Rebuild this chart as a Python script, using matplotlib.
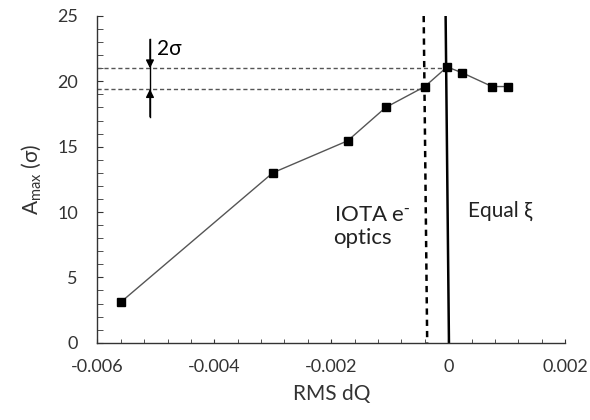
import matplotlib
matplotlib.use("Agg")
import matplotlib.pyplot as plt
from matplotlib.ticker import MultipleLocator

plt.rcParams['font.family'] = ['Lato', 'DejaVu Sans']
plt.rcParams['mathtext.default'] = 'regular'

# data
rms_dq = [-0.0056, -0.0030, -0.00172, -0.00107, -0.00040, -0.00002, 0.00024, 0.00075, 0.00103]
a_max = [3.1, 13.0, 15.45, 18.0, 19.6, 21.1, 20.65, 19.6, 19.6]

level_hi = 21.0
level_lo = 19.4
iota_x = [-0.00042, -0.00036]   # dashed line (top, bottom)
equal_x = [-0.000045, 0.000012]  # solid line (top, bottom)
arrow_x = -0.0051
arrow_ends = [23.2, 17.3]

fig = plt.figure(figsize=(5.9, 4.2), dpi=100)
ax = fig.add_axes([0.165, 0.184, 0.793, 0.778])

ax.plot(rms_dq, a_max, color='#555555', lw=1.0, marker='s', ms=6,
        mfc='black', mec='black', zorder=3)

# reference levels
ax.plot([-0.006, rms_dq[5]], [level_hi, level_hi], color='#555555', lw=1.0,
        ls=(0, (3, 2)), zorder=2)
ax.plot([-0.006, rms_dq[4]], [level_lo, level_lo], color='#555555', lw=1.0,
        ls=(0, (3, 2)), zorder=2)

# vertical separators
ax.plot(iota_x, [25, 0], color='black', lw=1.8, ls=(0, (2.5, 2)), zorder=2)
ax.plot(equal_x, [25, 0], color='black', lw=1.8, zorder=2)

# 2 sigma marker
ax.plot([arrow_x, arrow_x], arrow_ends, color='black', lw=1.0)
ax.annotate('', xy=(arrow_x, level_hi), xytext=(arrow_x, arrow_ends[0]),
            arrowprops=dict(arrowstyle='-|>', color='black', lw=1.0,
                            mutation_scale=12, shrinkA=0, shrinkB=0))
ax.annotate('', xy=(arrow_x, level_lo), xytext=(arrow_x, arrow_ends[1]),
            arrowprops=dict(arrowstyle='-|>', color='black', lw=1.0,
                            mutation_scale=12, shrinkA=0, shrinkB=0))
ax.text(-0.00498, 22.5, '2σ', fontsize=15, va='center', ha='left')

ax.text(-0.00196, 8.9, 'IOTA e$^{\\text{-}}$\noptics', fontsize=16, va='center',
        ha='left', linespacing=1.15, color='#222222')
ax.text(0.00033, 10.1, 'Equal ξ', fontsize=15, va='center', ha='left',
        color='#222222')

ax.set_xlim(-0.006, 0.002)
ax.set_ylim(0, 25)
ax.xaxis.set_minor_locator(MultipleLocator(0.0004))
ax.yaxis.set_major_locator(MultipleLocator(5))
ax.yaxis.set_minor_locator(MultipleLocator(1))
ax.set_xticks([-0.006, -0.004, -0.002, 0, 0.002])
ax.set_xticklabels(['-0.006', '-0.004', '-0.002', '0', '0.002'])

ax.spines['top'].set_visible(False)
ax.spines['right'].set_visible(False)
for s in ['left', 'bottom']:
    ax.spines[s].set_color('#333333')
    ax.spines[s].set_linewidth(1.0)

ax.tick_params(axis='both', which='both', direction='in', color='#333333',
               labelsize=13, labelcolor='#333333')
ax.tick_params(axis='y', which='both', length=4, pad=14)
ax.tick_params(axis='x', which='both', length=3, pad=12)

ax.set_xlabel('RMS dQ', fontsize=15, color='#333333', labelpad=6)
ax.set_ylabel('A$_{max}$ (σ)', fontsize=15, color='#333333', labelpad=10)

fig.savefig('out.png', dpi=100)
